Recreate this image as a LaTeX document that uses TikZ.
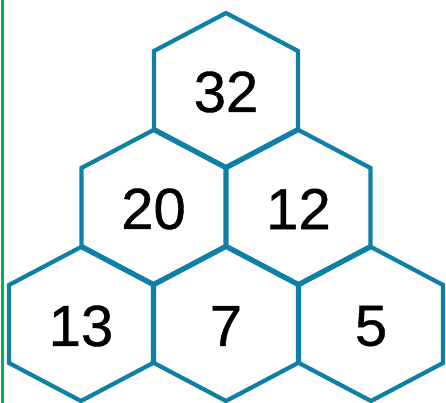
\documentclass[tikz,border=0pt]{standalone}
\usepackage{fontspec}
\setmainfont{Liberation Sans}
\newfontfamily\hexfont{Liberation Sans}[BoldFont=Liberation Sans,BoldFeatures={FakeBold=0.7}]
\usepackage{xcolor}
\usepackage{tikz}
\definecolor{cHex}{HTML}{0E7FA6}
\definecolor{cEdge}{HTML}{00B050}
\tikzset{
  hexline/.style={draw=cHex,line width=4.2pt},
  hexnum/.style={font=\hexfont\bfseries\fontsize{58}{60}\selectfont,inner sep=0pt},
}
% hexagon cell: name, centre x, centre y, number
\newcommand{\hexcell}[4]{%
  \draw[hexline] (#2,#3+77) -- (#2+72,#3+39) -- (#2+72,#3-39)
    -- (#2,#3-77) -- (#2-72,#3-39) -- (#2-72,#3+39) -- cycle;
  \node[hexnum] (#1) at (#2,#3-2) {#4};
}

\begin{document}
\begin{tikzpicture}[x=1pt,y=1pt]
  \useasboundingbox (0,0) rectangle (446,403);
  \draw[cEdge,line width=3pt] (2,0) -- (2,403);   % edge of the page
  \hexcell{top}{226}{313}{32}
  \hexcell{midl}{153.5}{196}{20}
  \hexcell{midr}{298.5}{196}{12}
  \hexcell{botl}{81}{79}{13}
  \hexcell{botm}{226}{79}{7}
  \hexcell{botr}{371}{79}{5}
\end{tikzpicture}
\end{document}
